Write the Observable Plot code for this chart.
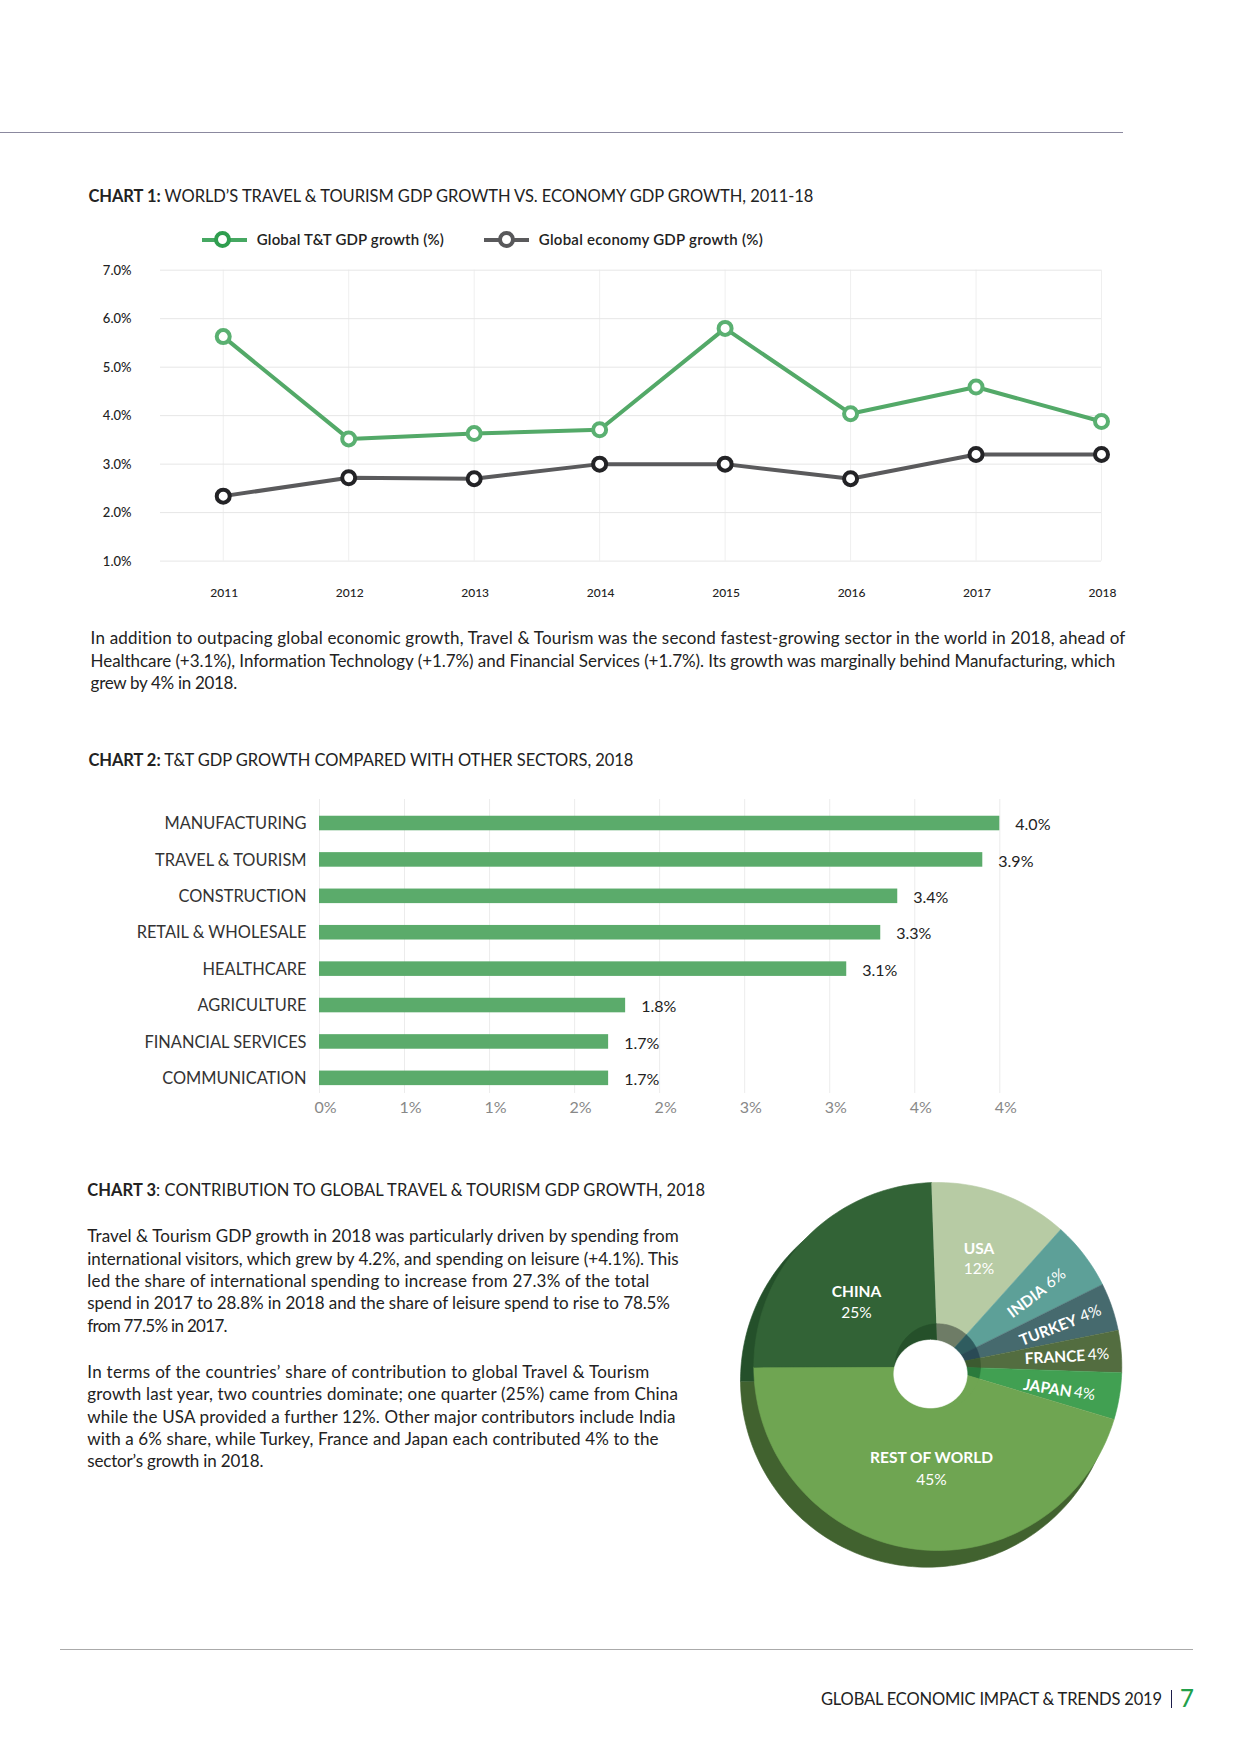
<!DOCTYPE html>
<html><head><meta charset="utf-8">
<script src="https://cdn.jsdelivr.net/npm/d3@7"></script>
<script src="https://cdn.jsdelivr.net/npm/@observablehq/plot@0.6"></script>
<style>
html,body{margin:0;background:#fff}
#page{position:relative;width:1240px;height:1754px;overflow:hidden;font-family:Lato,sans-serif;color:#222}
#page svg{position:absolute;background:transparent;overflow:visible}
.t{position:absolute;white-space:nowrap;line-height:1}
.r{position:absolute}
b{font-weight:700}
</style></head><body><div id="page"></div>
<script>
// Chart 1
const years=[2011,2012,2013,2014,2015,2016,2017,2018];
const ttGrowth=[5.63,3.52,3.63,3.71,5.8,4.04,4.59,3.88];
const economyGrowth=[2.34,2.72,2.70,3.0,3.0,2.7,3.2,3.2];
const growthTicks=[1,2,3,4,5,6,7];
// Chart 2
const sectors=["MANUFACTURING","TRAVEL & TOURISM","CONSTRUCTION","RETAIL & WHOLESALE","HEALTHCARE","AGRICULTURE","FINANCIAL SERVICES","COMMUNICATION"];
const sectorBars=[4.0,3.9,3.4,3.3,3.1,1.8,1.7,1.7];
const sectorTicks=[0,0.5,1,1.5,2,2.5,3,3.5,4];
// Chart 3
const pieNames=["USA","INDIA","TURKEY","FRANCE","JAPAN","REST OF WORLD","CHINA"];
const pieShares=[12.2,6,4.2,3.7,4.1,45.3,24.5];
const pieLabels=["12%","6%","4%","4%","4%","45%","25%"];

const page=document.getElementById("page");
function text(html,x,yc,size,width,extra){
  const d=document.createElement("div");d.className="t";d.innerHTML=html;
  d.style.cssText=`left:${x}px;top:${yc-size/2}px;font-size:${size}px;`+(extra||"");
  page.appendChild(d);
  if(width){const n=d.textContent.length-1;d.style.letterSpacing=((width-d.getBoundingClientRect().width)/n)+"px";}
  return d;
}
function rect(x,y,w,h,c){const d=document.createElement("div");d.className="r";d.style.cssText=`left:${x}px;top:${y}px;width:${w}px;height:${h}px;background:${c}`;page.appendChild(d);}
function ring(cx,cy,r,b,c){const d=document.createElement("div");d.className="r";d.style.cssText=`left:${cx-r}px;top:${cy-r}px;width:${2*r-2*b}px;height:${2*r-2*b}px;border:${b}px solid ${c};border-radius:50%;background:#fff`;page.appendChild(d);}
function place(svg,left,top){svg.style.left=left+"px";svg.style.top=top+"px";page.appendChild(svg);}

rect(0,132,1122.5,1,"#8b899f");
text("<b>CHART 1:</b> WORLD’S TRAVEL &amp; TOURISM GDP GROWTH VS. ECONOMY GDP GROWTH, 2011-18",88.4,196.3,16.5,725);
// legend
rect(201.5,237.5,45,4,"#46a862");ring(222.7,239.5,8.5,4,"#2f9e4f");
text("Global T&amp;T GDP growth (%)",256.8,239.5,15,187,"font-weight:600");
rect(483.5,237.5,45,4,"#5a5a5c");ring(506,239.5,8.5,4,"#58585a");
text("Global economy GDP growth (%)",538.8,239.5,15,224,"font-weight:600");

const rowsA=years.map((y,i)=>({y,v:ttGrowth[i]}));
const rowsB=years.map((y,i)=>({y,v:economyGrowth[i]}));
place(Plot.plot({
  width:1240,height:340,marginLeft:160,marginRight:139,marginTop:9.7,marginBottom:39.4,
  style:{fontFamily:"Lato,sans-serif",background:"transparent"},
  x:{type:"linear",domain:[2010.5,2018]},
  y:{domain:[1,7]},
  marks:[
    Plot.ruleX(years,{stroke:"#efefef",strokeWidth:1}),
    Plot.ruleY(growthTicks,{stroke:"#e6e6e6",strokeWidth:1}),
    Plot.axisY({ticks:growthTicks,tickSize:0,tickPadding:29,fontSize:13,tickFormat:d=>d.toFixed(1)+"%",label:null,fill:"#222",fontWeight:500,dy:0.5}),
    Plot.axisX({ticks:years,tickSize:0,tickPadding:27.4,fontSize:12,tickFormat:d=>String(d),label:null,fill:"#222",fontWeight:500,dx:1}),
    Plot.line(rowsA,{x:"y",y:"v",stroke:"#53a968",strokeWidth:4}),
    Plot.line(rowsB,{x:"y",y:"v",stroke:"#5a5a5c",strokeWidth:4}),
    Plot.dot(rowsA,{x:"y",y:"v",r:6.5,fill:"white",stroke:"#5ab071",strokeWidth:4}),
    Plot.dot(rowsB,{x:"y",y:"v",r:6.5,fill:"white",stroke:"#232326",strokeWidth:4})
  ]}),0,260);

[["In addition to outpacing global economic growth, Travel &amp; Tourism was the second fastest-growing sector in the world in 2018, ahead of",1035,637.2],
 ["Healthcare (+3.1%), Information Technology (+1.7%) and Financial Services (+1.7%). Its growth was marginally behind Manufacturing, which",1025,660],
 ["grew by 4% in 2018.",146.6,682.6]].forEach(([s,w,y])=>text(s,90.6,y,17,w));

text("<b>CHART 2:</b> T&amp;T GDP GROWTH COMPARED WITH OTHER SECTORS, 2018",88.4,760,16.5,545);

const rowsC=sectors.map((s,i)=>({s,v:sectorBars[i]}));
place(Plot.plot({
  width:1240,height:340,marginLeft:319,marginRight:240.7,marginTop:3,marginBottom:43,
  style:{fontFamily:"Lato,sans-serif",background:"transparent"},
  x:{domain:[0,4]},
  y:{domain:sectors,paddingInner:0.6,paddingOuter:0.338,align:0.68,round:false},
  marks:[
    Plot.ruleX(sectorTicks,{stroke:"#ececec",strokeWidth:1}),
    Plot.barX(rowsC,{x:"v",y:"s",fill:"#5bab6b"}),
    Plot.axisY({tickSize:0,tickPadding:13,fontSize:16.4,label:null,fill:"#333",dy:0.5}),
    Plot.axisX({ticks:sectorTicks,tickSize:0,tickPadding:8,fontSize:16,tickFormat:d=>d.toFixed(0)+"%",label:null,fill:"#888",dx:6}),
    Plot.text(rowsC,{x:"v",y:"s",text:d=>d.v.toFixed(1)+"%",dx:15.5,dy:1.5,textAnchor:"start",fontSize:16,fill:"#222"})
  ]}),0,796);

text("<b>CHART 3</b>: CONTRIBUTION TO GLOBAL TRAVEL &amp; TOURISM GDP GROWTH, 2018",87.3,1190.5,16.5,617.7);
[["Travel &amp; Tourism GDP growth in 2018 was particularly driven by spending from",591.7,1235.5],
 ["international visitors, which grew by 4.2%, and spending on leisure (+4.1%). This",591.7,1258],
 ["led the share of international spending to increase from 27.3% of the total",562.3,1280.3],
 ["spend in 2017 to 28.8% in 2018 and the share of leisure spend to rise to 78.5%",582.7,1302.6],
 ["from 77.5% in 2017.",140.3,1325],
 ["In terms of the countries’ share of contribution to global Travel &amp; Tourism",562.3,1371],
 ["growth last year, two countries dominate; one quarter (25%) came from China",590.7,1393.7],
 ["while the USA provided a further 12%. Other major contributors include India",588.2,1416],
 ["with a 6% share, while Turkey, France and Japan each contributed 4% to the",571.3,1438],
 ["sector’s growth in 2018.",176.2,1460.4]].forEach(([s,w,y])=>text(s,87.3,y,17,w));

// Pie built from the shares, drawn as filled polygons on Plot's own scales
const disc={cx:217.3,cy:196,r:184}, shade={cx:206.7,cy:210,r:186.7}, wall={cx:217.3,cy:196,r:42.7};
const startDeg=-2;
function wedge(c,a0,a1,key){
  const pts=[{x:c.cx,y:c.cy,key}];
  const n=Math.max(2,Math.ceil((a1-a0)/1.5));
  for(let i=0;i<=n;i++){const a=(a0+(a1-a0)*i/n)*Math.PI/180;pts.push({x:c.cx+c.r*Math.sin(a),y:c.cy-c.r*Math.cos(a),key});}
  return pts;
}
let acc=startDeg;
const angles=pieNames.map((n,i)=>{const a0=acc;acc+=pieShares[i]*3.6;return {n,a0,a1:acc};});
const shadePts=angles.filter(a=>a.n==="CHINA"||a.n==="REST OF WORLD").flatMap(a=>wedge(shade,a.a0,a.a1,"shade "+a.n));
const topPts=angles.flatMap(a=>wedge(disc,a.a0,a.a1,a.n));
const wallPts=angles.flatMap(a=>wedge(wall,a.a0,a.a1,"wall "+a.n));
const holePts=d3.range(0,361,4).map(d=>({x:210+36.7*Math.sin(d*Math.PI/180),y:203.5-34*Math.cos(d*Math.PI/180),key:"hole"}));
const colorDomain=["USA","INDIA","TURKEY","FRANCE","JAPAN","REST OF WORLD","CHINA","shade CHINA","shade REST OF WORLD","wall USA","wall INDIA","wall TURKEY","wall FRANCE","wall JAPAN","wall REST OF WORLD","wall CHINA","hole"];
const colorRange=["#b7cba4","#5da098","#466a6e","#536d40","#41a052","#6fa552","#326336","#24502a","#41622f","#6e7c66","#2f5c5f","#2a4a55","#3c5a30","#2a7a3c","#6fa552","#25502a","#ffffff"];
const nameSpots=[
 {t:"USA",x:258.5,y:79,rot:0},{t:"INDIA",x:306.5,y:131,rot:-37},{t:"TURKEY",x:328,y:160,rot:-21},
 {t:"FRANCE",x:334.5,y:187,rot:-3},{t:"JAPAN",x:327,y:218,rot:9},{t:"REST OF WORLD",x:211,y:288,rot:0},{t:"CHINA",x:136,y:122,rot:0}];
const pctSpots=[
 {x:258.5,y:99,rot:0},{x:335,y:108,rot:-37},{x:370,y:143,rot:-21},
 {x:378,y:184,rot:-3},{x:364,y:223,rot:9},{x:211,y:310,rot:0},{x:136,y:143,rot:0}].map((d,i)=>({...d,t:pieLabels[i]}));
const poly=pts=>Plot.line(pts,{x:"x",y:"y",z:"key",fill:"key",stroke:"key",strokeWidth:0.6,curve:"linear"});
place(Plot.plot({
  width:440,height:420,margin:0,
  style:{fontFamily:"Lato,sans-serif",background:"transparent"},
  x:{domain:[0,440],range:[0,440],axis:null},
  y:{domain:[0,420],range:[0,420],axis:null},
  color:{type:"ordinal",domain:colorDomain,range:colorRange},
  marks:[
    poly(shadePts),poly(topPts),poly(wallPts),poly(holePts),
    Plot.text(nameSpots,{x:"x",y:"y",text:"t",rotate:"rot",fill:"white",fontWeight:700,fontSize:15.5}),
    Plot.text(pctSpots,{x:"x",y:"y",text:"t",rotate:"rot",fill:"white",fontSize:15.5})
  ]}),720,1170);

rect(60.4,1649,1132.3,1,"#aaaaaa");
text("GLOBAL ECONOMIC IMPACT &amp; TRENDS 2019",821,1699,16.5,341);
rect(1170.5,1690,1,18,"#1c1c4a");
text("7",1180,1698,24,0,"color:#22a04a;font-weight:500");
</script></body></html>
